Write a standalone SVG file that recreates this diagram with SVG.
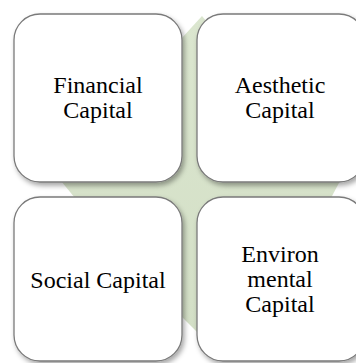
<svg xmlns="http://www.w3.org/2000/svg" width="356" height="363" viewBox="0 0 356 363">
<style>
.box{fill:#ffffff;stroke:#7a7a7a;stroke-width:1.3;filter:url(#sh)}
.t{font-size:24px;fill:#000;text-anchor:middle}
</style>
<defs>
<filter id="sh" x="-10%" y="-10%" width="130%" height="130%">
<feDropShadow dx="2" dy="3" stdDeviation="2.5" flood-color="#000" flood-opacity="0.35"/>
</filter>
<linearGradient id="g" x1="0" y1="0" x2="0" y2="1">
<stop offset="0" stop-color="#dbe6cf"/>
<stop offset="1" stop-color="#d3dfc6"/>
</linearGradient>
</defs>
<rect width="356" height="363" fill="#ffffff"/>
<g id="background">
<polygon points="180,40 202,16 340,181 331,198 198,333 180,315 75,198 61,181" fill="url(#g)"/>
</g>
<g id="connectors"></g>
<g font-family="Times New Roman, Liberation Serif, serif">
<g id="financial">
<rect class="box" x="14" y="14" width="168" height="168" rx="26"/>
<text class="t" x="98" y="93">Financial</text>
<text class="t" x="98" y="118">Capital</text>
</g>
<g id="aesthetic">
<rect class="box" x="197" y="14" width="168" height="168" rx="26"/>
<text class="t" x="280" y="93">Aesthetic</text>
<text class="t" x="280" y="118">Capital</text>
</g>
<g id="social">
<rect class="box" x="14" y="197" width="168" height="164" rx="26"/>
<text class="t" x="98" y="288">Social Capital</text>
</g>
<g id="environmental">
<rect class="box" x="197" y="197" width="168" height="164" rx="26"/>
<text class="t" x="280" y="262">Environ</text>
<text class="t" x="280" y="287">mental</text>
<text class="t" x="280" y="312">Capital</text>
</g>
</g>
</svg>
